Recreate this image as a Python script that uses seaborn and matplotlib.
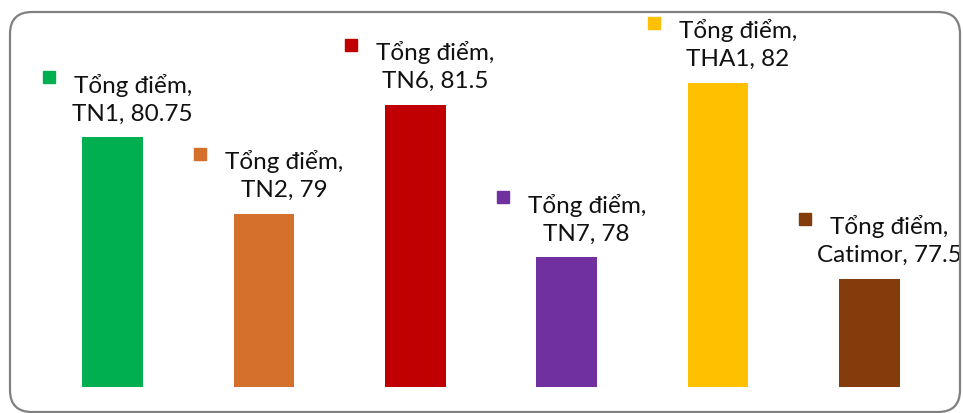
import matplotlib
matplotlib.use("Agg")
import matplotlib.pyplot as plt
import matplotlib.transforms as mtransforms
from matplotlib.patches import FancyBboxPatch
import pandas as pd
import seaborn as sns

# ── Data ─────────────────────────────────────────────────────────────────────
VARIETIES = ["TN1", "TN2", "TN6", "TN7", "THA1", "Catimor"]
SCORES    = [80.75, 79, 81.5, 78, 82, 77.5]
COLORS    = ["#00B050", "#D4702C", "#C00000", "#7030A0", "#FFC000", "#843C0C"]
SERIES    = "Tổng điểm"

sns.set_theme(style="white")
plt.rcParams["font.family"] = ["Lato", "Open Sans", "DejaVu Sans"]

df = pd.DataFrame({"variety": VARIETIES, "score": SCORES})

fig = plt.figure(figsize=(9.63, 4.14), dpi=100)
ax = fig.add_axes([37 / 963, 26 / 414, 908 / 963, 374 / 414])

sns.barplot(data=df, x="variety", y="score", hue="variety",
            palette=COLORS, width=0.4, legend=False, ax=ax,
            saturation=1, edgecolor="none")

ax.set_xlim(-0.5, len(VARIETIES) - 0.5)
ax.set_ylim(75.03, 83.6)
ax.set_axis_off()

# ── Data labels with colour key ──────────────────────────────────────────────
for i, (name, val, col) in enumerate(zip(VARIETIES, SCORES, COLORS)):
    ax.annotate(f"{SERIES},\n{name}, {val:g}", xy=(i, val),
                xytext=(20, 18), textcoords="offset pixels",
                ha="center", va="baseline", multialignment="center",
                fontsize=17.5, linespacing=1.4, color="#111111")
    tr = mtransforms.offset_copy(ax.transData, fig=fig, x=-64, y=60, units="dots")
    ax.plot(i, val, marker="s", markersize=8.3, color=col, transform=tr,
            clip_on=False)

# ── Rounded chart frame ──────────────────────────────────────────────────────
frame = FancyBboxPatch((10, 1), 950, 400,
                       boxstyle="round,pad=0,rounding_size=22",
                       transform=mtransforms.IdentityTransform(),
                       facecolor="none", edgecolor="#808080", linewidth=1.6)
fig.patches.append(frame)

fig.savefig("out.png", dpi=100)
plt.close(fig)
